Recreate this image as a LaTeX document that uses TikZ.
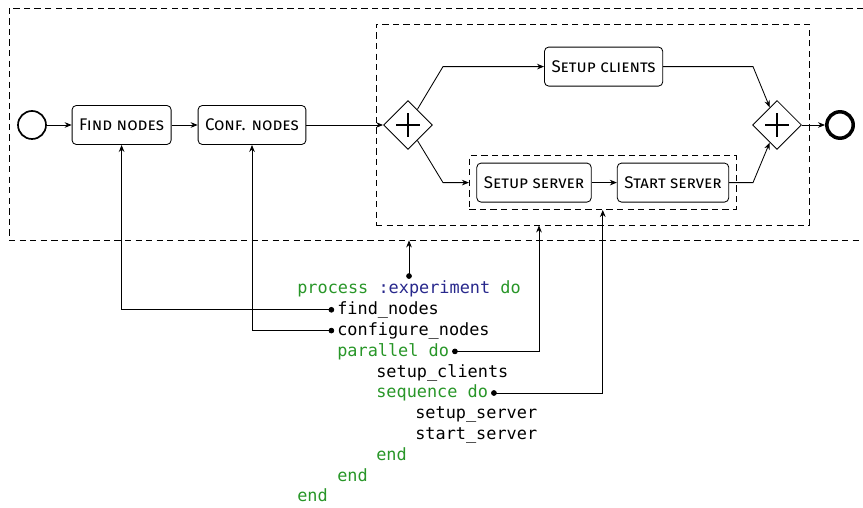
\documentclass[tikz,border=0pt]{standalone}
\usepackage{fontspec}
\setmainfont{Fira Sans}
\setmonofont{DejaVu Sans Mono}
\usetikzlibrary{arrows.meta,shapes.geometric,fit,positioning}

\definecolor{kwgreen}{RGB}{40,150,40}
\definecolor{symblue}{RGB}{40,40,140}

\tikzset{
  task/.style={draw, line width=0.6pt, rounded corners=3pt, minimum height=0.975cm,
    inner xsep=5pt, font=\fontsize{12}{14}\selectfont\scshape},
  event/.style={draw, circle, inner sep=0pt},
  gateway/.style={draw, line width=0.6pt, diamond, minimum size=1.225cm, inner sep=0pt},
  group/.style={draw, line width=0.6pt, dash pattern=on 4.5pt off 3pt, inner sep=0pt},
  flow/.style={line width=0.6pt, -{Stealth[length=5pt,width=4pt]}},
  ref/.style={line width=0.6pt, {Circle[length=4pt]}-{Stealth[length=5pt,width=4pt]}},
  code/.style={anchor=west, inner sep=2pt, font=\fontsize{12}{14}\selectfont\ttfamily,
    text height=1.6ex, text depth=.3ex},
}

\begin{document}
\begin{tikzpicture}
  \useasboundingbox (0,0) rectangle (21.575,12.675);

  % Ablauf oben
  \node[event, line width=1.2pt, minimum size=0.7cm] (start) at (0.8,9.55) {};
  \node[task] (find) at (3.04,9.55) {Find nodes};
  \node[task] (conf) at (6.3,9.55) {Conf. nodes};
  \node[gateway] (split) at (10.2,9.55) {};
  \node[task] (clients) at (15.09,11.01) {Setup clients};
  \node[task] (server) at (13.35,8.11) {Setup server};
  \node[task] (run) at (16.825,8.11) {Start server};
  \node[gateway] (join) at (19.425,9.55) {};
  \node[event, line width=2.5pt, minimum size=0.66cm] (stop) at (21.0,9.55) {};

  % Plus in den Gateways
  \foreach \g in {split,join} {
    \draw[line width=2pt] ([xshift=-0.29cm]\g.center) -- ([xshift=0.29cm]\g.center)
      ([yshift=-0.29cm]\g.center) -- ([yshift=0.29cm]\g.center);
  }

  % Gruppen
  \node[group, fit=(server) (run), inner sep=5pt] (seq) {};
  \node[group, fit={(9.4,7.05) (20.225,12.075)}] (par) {};
  \node[group, fit={(0.225,6.675) (22.5,12.475)}] (proc) {};

  % Knicke der Zweige
  \coordinate (up1) at (11.075,11.01);
  \coordinate (dn1) at (11.075,8.11);
  \coordinate (up2) at (18.825,11.01);
  \coordinate (dn2) at (18.825,8.11);

  \draw[flow] (start) -- (find);
  \draw[flow] (find) -- (conf);
  \draw[flow] (conf) -- (split);
  \draw[flow] (split) -- (up1) -- (clients);
  \draw[flow] (split) -- (dn1) -- (seq);
  \draw[flow] (server) -- (run);
  \draw[flow] (clients) -- (up2) -- (join);
  \draw[flow] (run) -- (dn2) -- (join);
  \draw[flow] (join) -- (stop);

  % Code
  \node[code] (lproc) at (7.355,5.45)
    {\textcolor{kwgreen}{process} \textcolor{symblue}{:experiment} \textcolor{kwgreen}{do}};
  \node[code] (lfind) at (8.355,4.93) {find\_nodes};
  \node[code] (lconf) at (8.355,4.41) {configure\_nodes};
  \node[code, kwgreen] (lpar) at (8.355,3.89) {parallel do};
  \node[code] (lclients) at (9.33,3.37) {setup\_clients};
  \node[code, kwgreen] (lseq) at (9.33,2.85) {sequence do};
  \node[code] (lserver) at (10.305,2.33) {setup\_server};
  \node[code] (lrun) at (10.305,1.81) {start\_server};
  \node[code, kwgreen] (lend1) at (9.33,1.29) {end};
  \node[code, kwgreen] (lend2) at (8.355,0.77) {end};
  \node[code, kwgreen] (lend3) at (7.355,0.25) {end};

  % Verweise vom Code ins Diagramm
  \coordinate (parhook) at (13.475,0);
  \draw[ref] (lproc.north) -- (lproc.north |- proc.south);
  \draw[ref] (lfind.west) -| (find.south);
  \draw[ref] (lconf.west) -| (conf.south);
  \draw[ref] (lpar.east) -| (parhook |- par.south);
  \draw[ref] (lseq.east) -| (seq.south);
\end{tikzpicture}
\end{document}
